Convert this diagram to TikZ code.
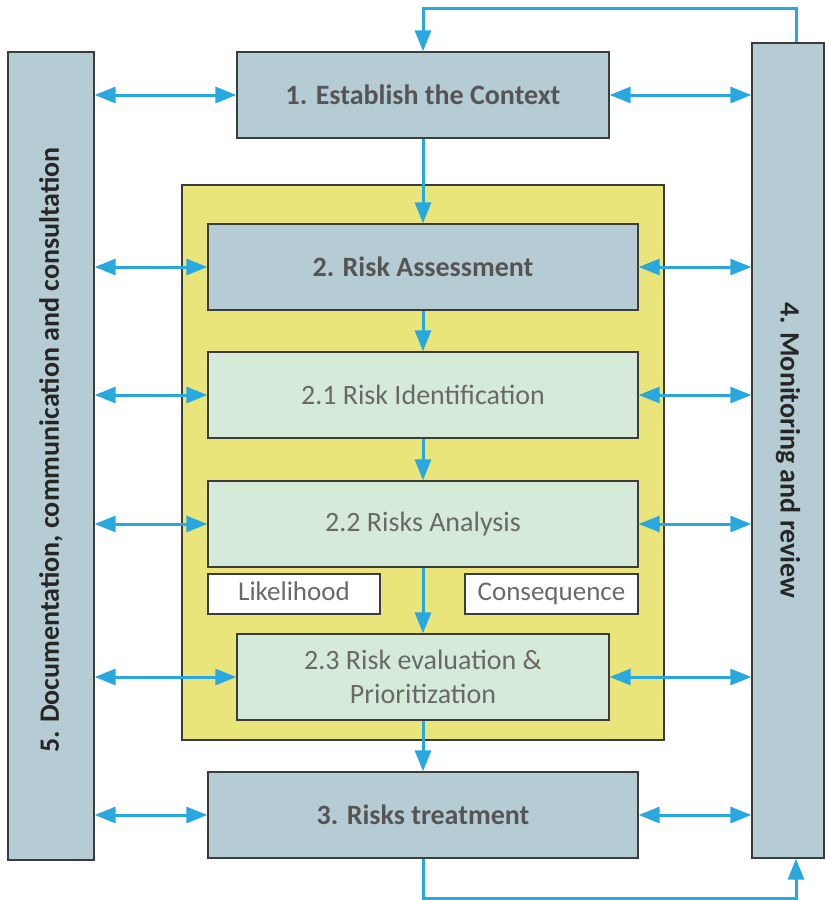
\documentclass[tikz,border=0pt]{standalone}
\usepackage{fontspec}
\setmainfont{Carlito}
\usetikzlibrary{arrows.meta}
\definecolor{bgray}{RGB}{181,204,212}
\definecolor{lgreen}{RGB}{213,234,216}
\definecolor{yel}{RGB}{233,229,122}
\definecolor{arrblue}{RGB}{41,168,224}
\definecolor{edge}{RGB}{60,60,60}
\definecolor{txtdark}{RGB}{85,85,85}
\definecolor{txtlight}{RGB}{105,105,105}
\begin{document}
\begin{tikzpicture}[x=1pt,y=-1pt,
  bluebox/.style={draw=edge,line width=1.3pt,fill=bgray,inner sep=0pt,text=txtdark,font=\fontsize{28}{33}\selectfont\bfseries},
  greenbox/.style={draw=edge,line width=1.3pt,fill=lgreen,inner sep=0pt,text=txtlight,font=\fontsize{28}{34}\selectfont,align=center},
  whitebox/.style={draw=edge,line width=1.3pt,fill=white,inner sep=0pt,text=txtlight,font=\fontsize{27}{31}\selectfont,text height=19pt,text depth=6pt},
  sidebox/.style={draw=edge,line width=1.3pt,fill=bgray,inner sep=0pt},
  sidetext/.style={text=black!85,font=\fontsize{28}{33}\selectfont\bfseries},
  dbl/.style={arrblue,line width=3pt,{Triangle[length=21pt,width=16pt]}-{Triangle[length=21pt,width=16pt]}},
  one/.style={arrblue,line width=3pt,-{Triangle[length=21pt,width=16pt]}},
  plain/.style={arrblue,line width=3pt}]
\useasboundingbox (0,0) rectangle (825,900);
% left and right boxes
\node[sidebox,minimum width=86pt,minimum height=808pt] (doc) at (51,456) {};
\node[sidetext,rotate=90] (doct) at (51,450) {5. Documentation, communication and consultation};
\node[sidebox,minimum width=72pt,minimum height=815pt] (mon) at (788,450.5) {};
\node[sidetext,rotate=-90] (mont) at (mon.center) {4. Monitoring and review};
% yellow container
\node[draw=edge,line width=1.3pt,fill=yel,minimum width=482pt,minimum height=555pt,inner sep=0pt] (yellow) at (423,462.5) {};
% boxes
\node[bluebox,minimum width=372pt,minimum height=86pt] (b1) at (423,95) {1. Establish the Context};
\node[bluebox,minimum width=430pt,minimum height=86pt] (b2) at (423,267) {2. Risk Assessment};
\node[greenbox,minimum width=430pt,minimum height=86pt] (b21) at (423,395) {2.1 Risk Identification};
\node[greenbox,minimum width=430pt,minimum height=86pt] (b22) at (423,524) {2.2 Risks Analysis};
\node[whitebox,minimum width=172pt,minimum height=40pt] (lik) at (294,594) {Likelihood};
\node[whitebox,minimum width=173pt,minimum height=40pt] (cons) at (551.5,594) {Consequence};
\node[greenbox,minimum width=372pt,minimum height=86pt] (b23) at (423,677) {2.3 Risk evaluation \&\\Prioritization};
\node[bluebox,minimum width=430pt,minimum height=86pt] (b3) at (423,815) {3. Risks treatment};
% vertical flow
\draw[one] (b1.south) -- (b2.north);
\draw[one] (b2.south) -- (b21.north);
\draw[one] (b21.south) -- (b22.north);
\draw[one] (b22.south) -- (b23.north);
\draw[one] (b23.south) -- (b3.north);
% feedback loops
\coordinate (ttop) at (796,8);
\coordinate (tl) at (423,8);
\draw[plain] (mon.north -| ttop) -- (ttop) -- (tl) -- ++(0,10);
\draw[one] (423,12) -- (b1.north);
\coordinate (bb) at (423,898);
\coordinate (br) at (796,898);
\draw[plain] (b3.south) -- (bb) -- (br) -- ++(0,-10);
\draw[one] (796,892) -- (mon.south -| br);
% double arrows to side boxes
\foreach \n in {b1,b2,b21,b22,b23,b3}{
  \draw[dbl] (doc.east |- \n.west) -- (\n.west);
  \draw[dbl] (\n.east) -- (mon.west |- \n.east);
}
\end{tikzpicture}
\end{document}
